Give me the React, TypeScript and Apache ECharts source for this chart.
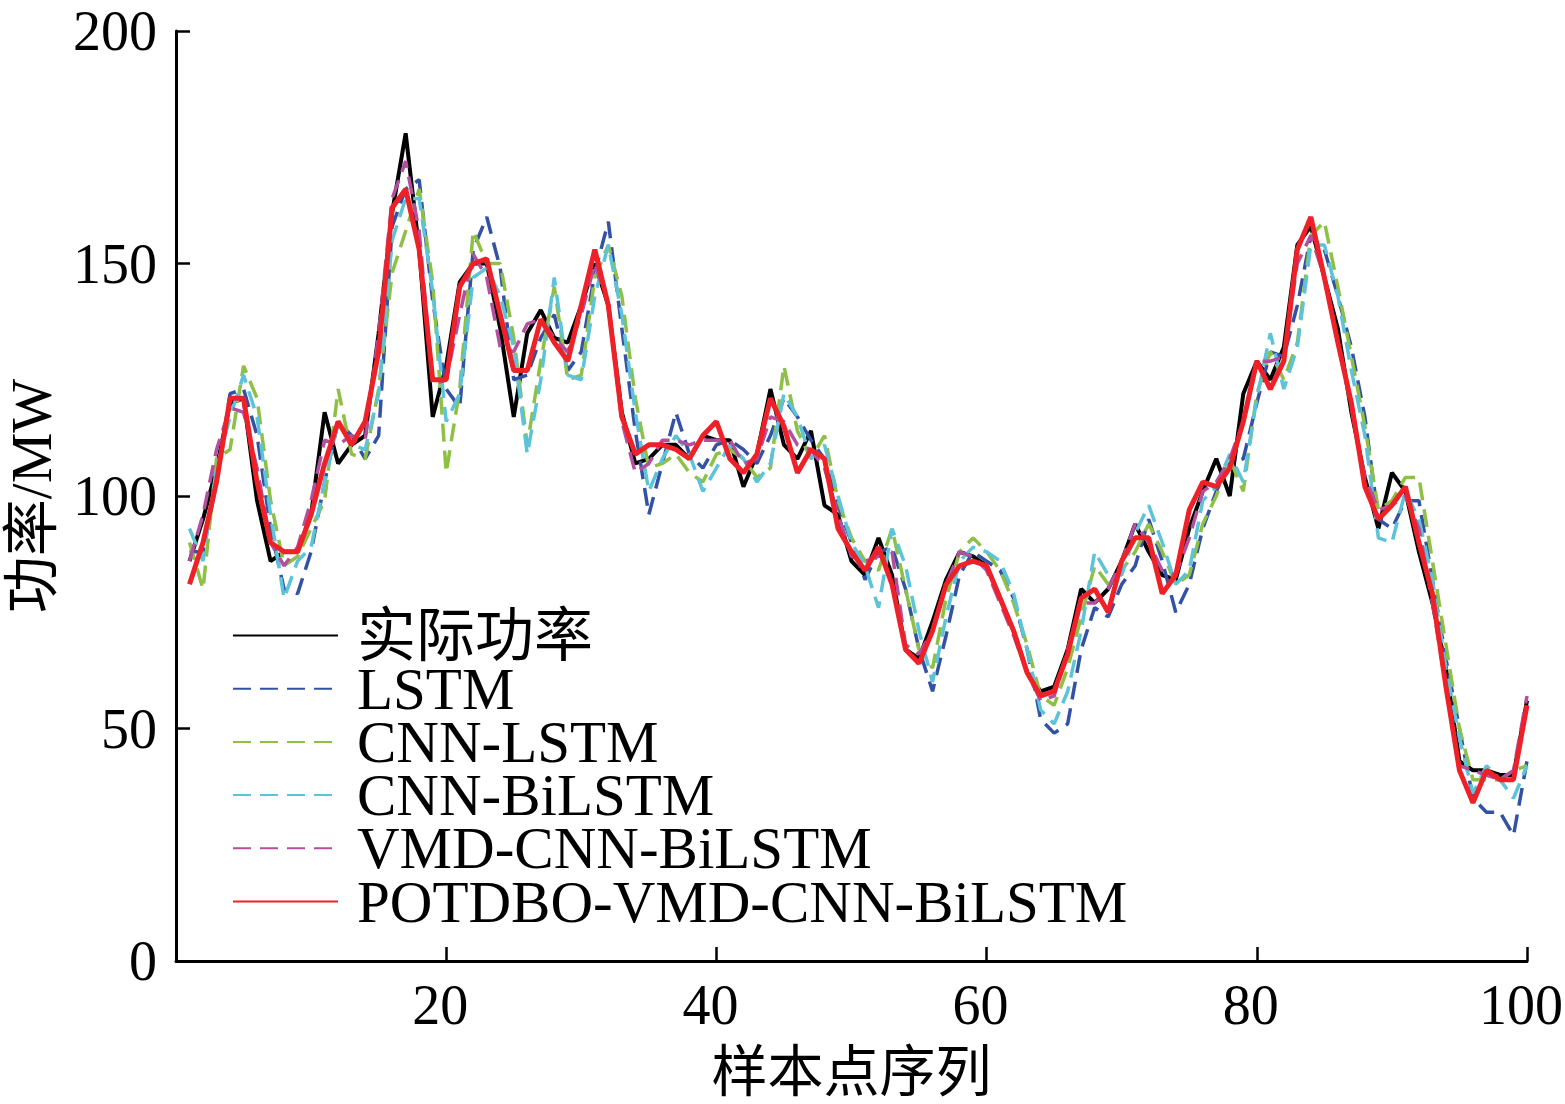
import React, { useEffect, useRef } from "react";
import * as echarts from "echarts";

const sampleIndex: number[] = Array.from({ length: 100 }, (_, k) => k + 1);

const actualPower: number[] = [
  86, 95, 106, 120, 121, 99, 86, 88, 88, 96,
  118, 107, 111, 113, 135, 161, 178, 153, 117, 128,
  146, 150, 150, 136, 117, 135, 140, 134, 133, 141,
  150, 141, 118, 107, 108, 111, 111, 108, 113, 112,
  112, 102, 109, 123, 111, 108, 114, 98, 96, 86,
  83, 91, 83, 67, 65, 73, 82, 88, 87, 85,
  78, 71, 62, 58, 59, 67, 80, 77, 80, 86,
  94, 88, 83, 82, 93, 101, 108, 100, 122, 129,
  125, 132, 154, 158, 147, 136, 118, 104, 93, 105,
  101, 88, 77, 63, 43, 41, 41, 40, 40, 56,
];

const lstm: number[] = [
  88, 88, 103, 122, 123, 113, 93, 80, 79, 88,
  103, 116, 113, 108, 113, 158, 166, 168, 142, 123,
  119, 153, 160, 149, 125, 126, 134, 139, 127, 131,
  148, 159, 136, 114, 96, 107, 118, 109, 106, 111,
  112, 110, 107, 113, 121, 117, 112, 108, 98, 90,
  82, 88, 89, 80, 67, 58, 70, 83, 88, 86,
  84, 78, 67, 52, 49, 51, 67, 76, 74, 81,
  85, 95, 86, 75, 81, 93, 101, 107, 108, 120,
  131, 130, 141, 156, 153, 143, 132, 117, 95, 93,
  99, 99, 82, 65, 50, 35, 32, 32, 27, 43,
];

const cnnLstm: number[] = [
  90, 80, 108, 110, 128, 121, 99, 85, 87, 93,
  99, 123, 109, 108, 123, 148, 157, 166, 146, 105,
  123, 157, 150, 150, 134, 111, 129, 145, 125, 126,
  147, 154, 143, 121, 106, 107, 109, 105, 103, 109,
  110, 108, 104, 106, 128, 114, 108, 113, 99, 91,
  86, 84, 93, 80, 67, 63, 78, 88, 91, 88,
  84, 77, 68, 57, 55, 63, 74, 85, 81, 84,
  88, 94, 88, 81, 83, 94, 100, 108, 101, 122,
  131, 125, 133, 156, 159, 145, 130, 115, 97, 99,
  104, 104, 86, 68, 50, 39, 39, 39, 41, 42,
];

const cnnBiLstm: number[] = [
  93, 86, 106, 117, 126, 117, 96, 78, 86, 89,
  103, 116, 111, 110, 122, 155, 164, 164, 144, 116,
  122, 147, 149, 143, 132, 109, 125, 147, 126, 125,
  143, 154, 139, 118, 101, 108, 113, 109, 101, 106,
  111, 108, 103, 107, 122, 117, 108, 111, 100, 90,
  85, 76, 93, 85, 71, 60, 74, 86, 89, 88,
  86, 79, 67, 54, 51, 58, 71, 88, 83, 83,
  92, 98, 90, 81, 84, 99, 102, 109, 103, 121,
  135, 123, 132, 154, 154, 143, 127, 113, 91, 90,
  101, 95, 82, 63, 48, 36, 42, 39, 35, 42,
];

const vmdCnnBiLstm: number[] = [
  86, 96, 110, 119, 118, 106, 90, 85, 89, 99,
  112, 111, 113, 112, 135, 164, 172, 157, 124, 125,
  139, 152, 147, 132, 131, 137, 138, 134, 131, 139,
  150, 141, 116, 105, 107, 112, 112, 111, 112, 112,
  112, 107, 108, 117, 116, 111, 110, 106, 96, 87,
  86, 87, 88, 68, 66, 71, 81, 88, 87, 84,
  77, 70, 62, 56, 57, 67, 77, 77, 80, 86,
  94, 90, 84, 83, 91, 101, 103, 108, 116, 129,
  129, 130, 150, 156, 147, 133, 119, 104, 97, 98,
  100, 93, 77, 59, 42, 41, 40, 39, 41, 57,
];

const potdboVmdCnnBiLstm: number[] = [
  81, 90, 103, 121, 121, 103, 90, 88, 88, 96,
  107, 116, 111, 116, 131, 162, 166, 153, 125, 125,
  145, 150, 151, 139, 127, 127, 138, 133, 129, 141,
  153, 141, 117, 109, 111, 111, 110, 108, 113, 116,
  108, 105, 109, 121, 115, 105, 110, 108, 93, 88,
  84, 89, 81, 67, 64, 71, 81, 85, 86, 85,
  78, 71, 62, 57, 58, 66, 78, 80, 75, 86,
  91, 91, 79, 83, 97, 103, 102, 106, 116, 129,
  123, 129, 153, 160, 147, 133, 120, 102, 95, 98,
  102, 90, 79, 59, 41, 34, 41, 39, 39, 55,
];

const seriesNames: string[] = [
  "实际功率",
  "LSTM",
  "CNN-LSTM",
  "CNN-BiLSTM",
  "VMD-CNN-BiLSTM",
  "POTDBO-VMD-CNN-BiLSTM",
];

const xTicks = { min: 0, max: 100, interval: 20 };
const yTicks = { min: 0, max: 200, interval: 50 };

const FONT = '"Liberation Serif", "Times New Roman", "Noto Sans CJK SC", serif';

export default function App() {
  const ref = useRef<HTMLDivElement>(null);

  useEffect(() => {
    if (!ref.current) return;
    const chart = echarts.init(ref.current, undefined, { renderer: "svg" });

    const pairs = (vals: number[]) => vals.map((v, k) => [sampleIndex[k], v]);
    const dash = [18, 9];

    const seriesDefs = [
      { data: actualPower, color: "#000000", width: 4, type: "solid" as any },
      { data: lstm, color: "#3452A3", width: 3.5, type: dash },
      { data: cnnLstm, color: "#8DC045", width: 3.5, type: dash },
      { data: cnnBiLstm, color: "#5CC3D9", width: 3.5, type: dash },
      { data: vmdCnnBiLstm, color: "#B24F9E", width: 3.5, type: dash },
      { data: potdboVmdCnnBiLstm, color: "#EE2028", width: 5, type: "solid" as any },
    ];

    chart.setOption({
      animation: false,
      backgroundColor: "#ffffff",
      grid: {
        left: 176,
        right: 38,
        top: 31,
        bottom: 143,
        containLabel: false,
        outerBoundsMode: "none",
      },
      legend: {
        orient: "vertical",
        left: 232,
        top: 606,
        itemWidth: 105,
        itemHeight: 4,
        itemGap: -5.8,
        padding: 0,
        data: seriesNames,
        itemStyle: { opacity: 0 },
        textStyle: {
          fontSize: 59,
          fontFamily: FONT,
          color: "#000",
          lineHeight: 53,
          padding: [0, 0, 0, 14],
        },
      },
      xAxis: {
        type: "value",
        min: xTicks.min,
        max: xTicks.max,
        interval: xTicks.interval,
        name: "样本点序列",
        nameLocation: "middle",
        nameGap: 83,
        nameTextStyle: { fontSize: 56, fontFamily: FONT, color: "#000" },
        axisLine: { show: true, lineStyle: { color: "#000", width: 3 } },
        axisTick: { show: true, inside: true, length: 14, lineStyle: { color: "#000", width: 2.5 } },
        axisLabel: {
          fontSize: 56,
          fontFamily: FONT,
          color: "#000",
          margin: 16,
          padding: [0, 12, 0, 0],
          formatter: (v: number) => (v === 0 ? "" : String(v)),
        },
        splitLine: { show: false },
      },
      yAxis: {
        type: "value",
        min: yTicks.min,
        max: yTicks.max,
        interval: yTicks.interval,
        name: "功率/MW",
        nameLocation: "middle",
        nameGap: 116,
        nameTextStyle: { fontSize: 57, fontFamily: FONT, color: "#000" },
        axisLine: { show: true, lineStyle: { color: "#000", width: 3 } },
        axisTick: { show: true, inside: true, length: 14, lineStyle: { color: "#000", width: 2.5 } },
        axisLabel: { fontSize: 56, fontFamily: FONT, color: "#000", margin: 19 },
        splitLine: { show: false },
      },
      series: seriesDefs.map((s, k) => ({
        name: seriesNames[k],
        type: "line",
        data: pairs(s.data),
        symbol: "none",
        showSymbol: false,
        smooth: false,
        itemStyle: { color: s.color },
        lineStyle: { color: s.color, width: s.width, type: s.type },
        z: 2 + k,
      })),
    });

    return () => chart.dispose();
  }, []);

  return (
    <div
      ref={ref}
      style={{ position: "fixed", left: 0, top: 0, width: 1565, height: 1104, background: "#fff" }}
    />
  );
}
